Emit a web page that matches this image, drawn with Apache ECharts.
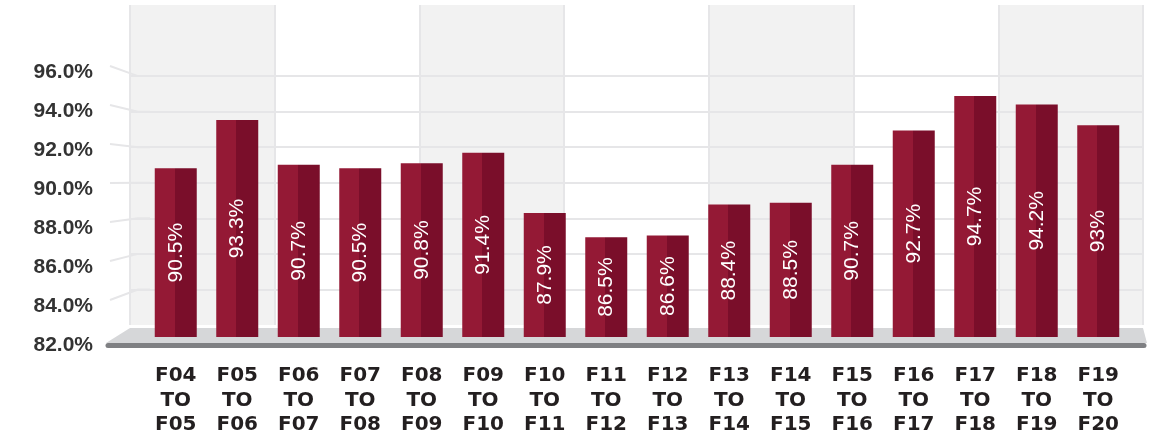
<!DOCTYPE html>
<html>
<head>
<meta charset="utf-8">
<script src="https://cdn.jsdelivr.net/npm/echarts@6/dist/echarts.min.js"></script>
<style>
  html, body { margin: 0; padding: 0; background: #fff; }
  #main { width: 1152px; height: 441px; }
</style>
</head>
<body>
<div id="main"></div>
<script>
// periods and rates
const categories = [
  'F04\nTO\nF05', 'F05\nTO\nF06', 'F06\nTO\nF07', 'F07\nTO\nF08',
  'F08\nTO\nF09', 'F09\nTO\nF10', 'F10\nTO\nF11', 'F11\nTO\nF12',
  'F12\nTO\nF13', 'F13\nTO\nF14', 'F14\nTO\nF15', 'F15\nTO\nF16',
  'F16\nTO\nF17', 'F17\nTO\nF18', 'F18\nTO\nF19', 'F19\nTO\nF20'
]
const rates = [90.5, 93.3, 90.7, 90.5, 90.8, 91.4, 87.9, 86.5, 86.6, 88.4, 88.5, 90.7, 92.7, 94.7, 94.2, 93]
const yTicks = [82, 84, 86, 88, 90, 92, 94, 96]
const wallBands = ['a', 'b', 'c', 'd', 'e', 'f', 'g']

// back wall box (px)
const wall = { left: 130, right: 1143, top: 5, bottom: 325 }

const chart = echarts.init(document.getElementById('main'))

const lineGray = '#e6e6e8'
// wall lines: hide 82, 98, 100
const wallLineColors = ['rgba(0,0,0,0)', lineGray, lineGray, lineGray, lineGray, lineGray, lineGray, lineGray, 'rgba(0,0,0,0)', 'rgba(0,0,0,0)']

const option = {
  animation: false,
  grid: [
    { left: 145, right: 23, top: 72, bottom: 96 },  // y labels
    { left: wall.left, right: 1152 - wall.right, top: wall.top, bottom: 441 - wall.bottom },  // wall
    { left: 145, right: 23, top: 65, bottom: 104 }  // bars
  ],
  xAxis: [
    { gridIndex: 0, type: 'category', data: categories, show: false },
    {
      gridIndex: 1, type: 'category', data: wallBands, z: 0,
      axisLine: { show: false }, axisTick: { show: false }, axisLabel: { show: false },
      splitLine: { show: true, lineStyle: { color: lineGray, width: 2 } },
      splitArea: { show: true, areaStyle: { color: ['#f2f2f2', '#ffffff'] } }
    },
    {
      gridIndex: 2, type: 'category', data: categories,
      axisLine: { show: false }, axisTick: { show: false },
      axisLabel: {
        interval: 0, margin: 27,
        fontFamily: 'DejaVu Sans', fontWeight: 'bold', fontSize: 20, lineHeight: 24.5,
        color: '#231f20'
      }
    }
  ],
  yAxis: [
    {
      gridIndex: 0, type: 'value', min: 82, max: 96, interval: 2,
      axisLine: { show: false }, axisTick: { show: false }, splitLine: { show: false },
      axisLabel: {
        margin: 52, formatter: v => v.toFixed(1) + '%',
        fontFamily: 'Liberation Sans', fontWeight: 'bold', fontSize: 21, color: '#333333'
      }
    },
    {
      gridIndex: 1, type: 'value', min: 82, max: 100, interval: 2, z: 1,
      axisLine: { show: false }, axisTick: { show: false }, axisLabel: { show: false },
      splitLine: { show: true, lineStyle: { color: wallLineColors, width: 2 } }
    },
    { gridIndex: 2, type: 'value', min: 80.7, max: 96.5, show: false }
  ],
  series: [
    {
      type: 'bar',
      xAxisIndex: 2,
      yAxisIndex: 2,
      data: rates,
      barWidth: 42,
      z: 4,
      itemStyle: {
        color: {
          type: 'linear', x: 0, y: 0, x2: 1, y2: 0,
          colorStops: [
            { offset: 0, color: '#941935' },
            { offset: 0.48, color: '#941935' },
            { offset: 0.48, color: '#7a0e2a' },
            { offset: 1, color: '#7a0e2a' }
          ]
        }
      },
      label: {
        show: true, position: 'inside', rotate: 90,
        color: '#ffffff', fontFamily: 'Liberation Sans', fontSize: 21,
        formatter: p => p.value + '%'
      }
    }
  ]
}

chart.setOption(option)

// floor, front edge and the slanted ties from labels to the wall
const graphics = [
  {
    type: 'polygon', z: 3, silent: true,
    shape: { points: [[wall.left, wall.bottom + 3], [wall.right, wall.bottom + 3], [wall.right + 4, 343], [106, 343]] },
    style: { fill: '#d6d7d9' }
  },
  {
    type: 'line', z: 5, silent: true,
    shape: { x1: 108, y1: 345.5, x2: 1144, y2: 345.5 },
    style: { stroke: '#7f8083', lineWidth: 5, lineCap: 'round' }
  }
]
yTicks.slice(1).forEach(v => {
  const yL = chart.convertToPixel({ yAxisIndex: 0 }, v) - 6
  const yW = chart.convertToPixel({ yAxisIndex: 1 }, v)
  graphics.push({
    type: 'polyline', z: 1, silent: true,
    shape: { points: [[110, yL], [wall.left + 8, yW], [wall.left + 20, yW]] },
    style: { stroke: lineGray, lineWidth: 2, fill: null }
  })
})
chart.setOption({ graphic: graphics })
</script>
</body>
</html>
